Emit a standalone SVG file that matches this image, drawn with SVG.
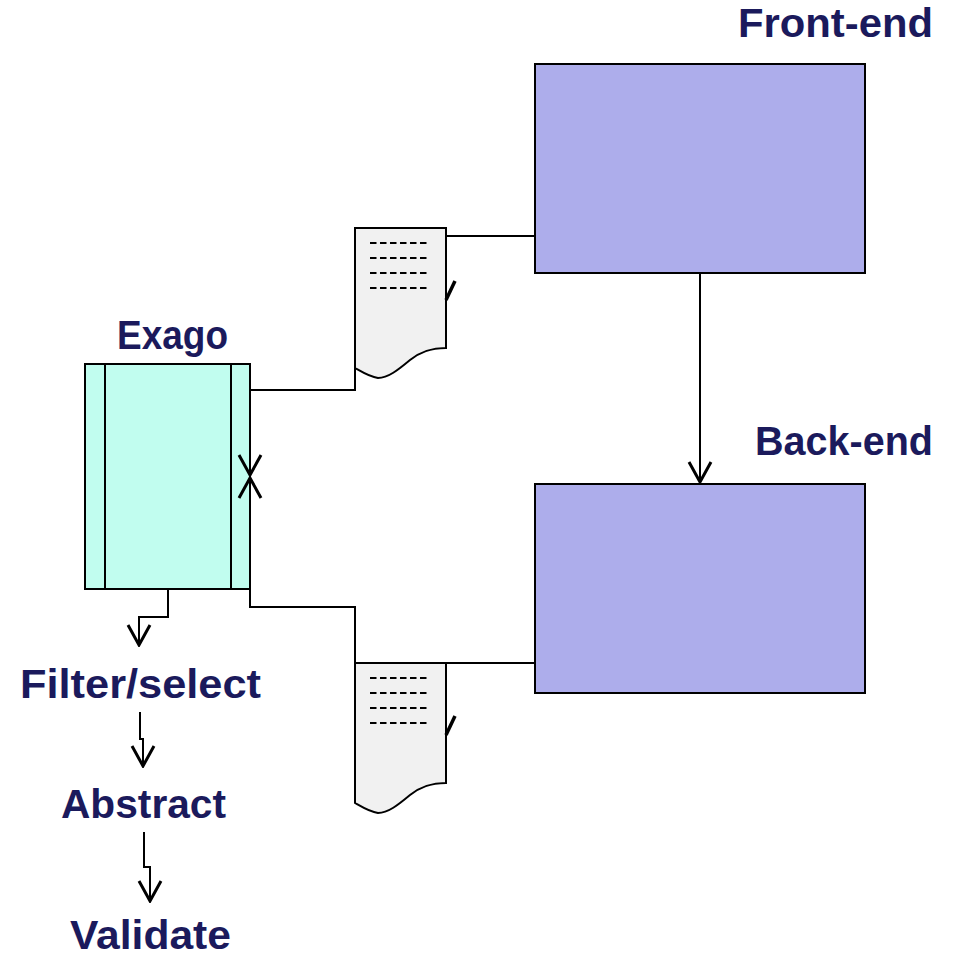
<svg xmlns="http://www.w3.org/2000/svg" width="957" height="958" viewBox="0 0 957 958">
  <style>
    .lbl { font-family: "Liberation Sans", Arial, sans-serif; font-weight: bold; font-size: 40px; fill: #1b1a5c; }
    .ln { fill: none; stroke: #000; stroke-width: 2; }
    .box { fill: #adadeb; stroke: #000; stroke-width: 2; }
    .exago { fill: #c1fdef; stroke: #000; stroke-width: 2; }
    .doc { fill: #f1f1f1; stroke: #000; stroke-width: 2; }
    .dash { fill: none; stroke: #000; stroke-width: 2.2; stroke-dasharray: 6.5 3.5; }
    .tick { fill: none; stroke: #000; stroke-width: 3.5; }
  </style>
  <defs>
    <marker id="openV" viewBox="-23 -13 25 26" refX="0" refY="0" markerWidth="25" markerHeight="26" markerUnits="userSpaceOnUse" orient="auto">
      <path d="M-20,-11 L0,0 L-20,11" fill="none" stroke="#000" stroke-width="3"/>
    </marker>
  </defs>
  <rect width="957" height="958" fill="#fff"/>

  <g id="frontend">
    <rect class="box" x="535" y="64" width="330" height="209"/>
    <text class="lbl" x="738" y="37" textLength="195" lengthAdjust="spacingAndGlyphs">Front-end</text>
  </g>

  <g id="backend">
    <rect class="box" x="535" y="484" width="330" height="209"/>
    <text class="lbl" x="755" y="455" textLength="178" lengthAdjust="spacingAndGlyphs">Back-end</text>
  </g>

  <g id="exago">
    <rect class="exago" x="85" y="364" width="165" height="225"/>
    <line class="ln" x1="105" y1="364" x2="105" y2="589"/>
    <line class="ln" x1="231" y1="364" x2="231" y2="589"/>
    <text class="lbl" x="117" y="349" textLength="111" lengthAdjust="spacingAndGlyphs">Exago</text>
  </g>

  <g id="doc1">
    <path class="doc" d="M355,228 H446 V348 C430,348 420,352 410,360 C398,370 388,378 378,378 C370,377 362,372 355,368 Z"/>
    <path class="dash" d="M370,243 H430 M370,258 H430 M370,273 H430 M370,288 H430"/>
    <path class="tick" d="M446,300 L455,281"/>
  </g>

  <g id="doc2">
    <path class="doc" d="M355,663 H446 V783 C430,783 420,787 410,795 C398,805 388,813 378,813 C370,812 362,807 355,803 Z"/>
    <path class="dash" d="M370,678 H430 M370,693 H430 M370,708 H430 M370,723 H430"/>
    <path class="tick" d="M446,735 L455,716"/>
  </g>

  <g id="filter">
    <text class="lbl" x="20" y="698" textLength="241" lengthAdjust="spacingAndGlyphs">Filter/select</text>
  </g>
  <g id="abstract">
    <text class="lbl" x="61" y="818" textLength="165" lengthAdjust="spacingAndGlyphs">Abstract</text>
  </g>
  <g id="validate">
    <text class="lbl" x="70" y="949" textLength="161" lengthAdjust="spacingAndGlyphs">Validate</text>
  </g>

  <g id="connectors">
    <path class="ln" d="M535,236 H446"/>
    <path class="ln" d="M355,368 V390 H250 V475" marker-end="url(#openV)"/>
    <path class="ln" d="M535,663 H355 V607 H250 V478" marker-end="url(#openV)"/>
    <path class="ln" d="M700,273 V482" marker-end="url(#openV)"/>
    <path class="ln" d="M168,589 V617 H139 V645" marker-end="url(#openV)"/>
    <path class="ln" d="M140,712 V739 H143 V766" marker-end="url(#openV)"/>
    <path class="ln" d="M144,832 V867 H150 V901" marker-end="url(#openV)"/>
  </g>
</svg>
